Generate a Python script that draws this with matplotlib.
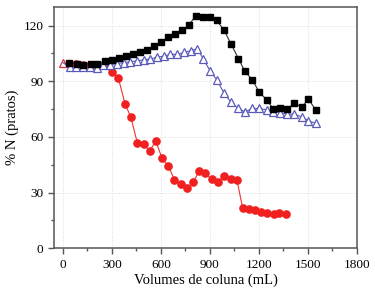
import matplotlib
matplotlib.use("Agg")
import matplotlib.pyplot as plt
from matplotlib.ticker import MultipleLocator

plt.rcParams['font.family'] = ['Liberation Serif', 'DejaVu Serif']

# Données
x_preto = [39, 84, 124, 169, 210, 257, 298, 343, 386, 431, 472, 512, 557, 598, 645, 686,
           731, 771, 812, 855, 900, 941, 986, 1029, 1074, 1114, 1159, 1202, 1247, 1288,
           1329, 1373, 1416, 1462, 1502, 1547]
y_preto = [99.8, 99.5, 98.9, 99.5, 99.3, 100.7, 101.6, 102.3, 103.4, 104.7, 105.7, 107,
           108.8, 111, 113.9, 115.3, 117.5, 120.2, 125.4, 124.8, 124.8, 122.9, 117.5,
           110.1, 102.2, 95.3, 90.8, 84, 80, 75, 75.3, 75, 78.2, 76, 80.4, 74.6]

x_azul = [0, 41, 82, 124, 165, 206, 247, 288, 330, 371, 412, 453, 494, 535, 576, 617,
          658, 700, 741, 782, 823, 859, 900, 941, 986, 1029, 1074, 1114, 1159, 1202,
          1247, 1288, 1329, 1373, 1416, 1462, 1502, 1547]
y_azul = [100, 97.5, 97.5, 97.5, 97.5, 97, 98.5, 99, 99.5, 100, 100.5, 101, 101.5, 102,
          103, 103.5, 104.5, 104.5, 105.5, 106.5, 107.5, 102, 95.7, 90.8, 83.6, 78.6,
          75.3, 73.5, 75.3, 75.3, 74.6, 73.5, 73.1, 72.3, 72.3, 70.7, 68.6, 67.4]

x_verm = [0, 41, 82, 124, 165, 206, 247, 302, 339, 380, 416, 455, 494, 531, 568, 606,
          645, 682, 723, 761, 798, 835, 871, 910, 951, 988, 1027, 1065, 1100, 1139,
          1176, 1212, 1251, 1290, 1325, 1366]
y_verm = [100, 99.5, 99.5, 99, 99, 98.5, 98.5, 94.8, 91.7, 77.8, 70.5, 56.8, 56.1, 52.2,
          57.9, 48.5, 44.2, 37, 34.4, 32.5, 35.7, 41.8, 40.4, 37.1, 35.5, 39.1, 37.1,
          36.8, 21.6, 21, 20.5, 19.6, 19, 18.3, 18.8, 18.4]

fig = plt.figure(figsize=(3.75, 2.94), dpi=100)
ax = fig.add_axes([0.144, 0.156, 0.808, 0.820])

ax.plot(x_verm, y_verm, color='#f03030', lw=0.8, marker='o', ms=5.2,
        mfc='#f02020', mec='#f02020', markevery=slice(1, None), zorder=2)
ax.plot(x_verm, y_verm, ls='none', marker='^', ms=5.8, mfc='white', mec='#e03040',
        mew=0.9, markevery=[0], zorder=2)
ax.plot(x_azul, y_azul, color='#5a5ab8', lw=0.8, marker='^', ms=5.8, mfc='white',
        mec='#5a5ab8', mew=0.9, markevery=slice(1, None), zorder=3)
ax.plot(x_preto, y_preto, color='#333333', lw=0.8, marker='s', ms=5,
        mfc='black', mec='black', zorder=4)

ax.set_xlim(-55, 1800)
ax.set_ylim(0, 130)
ax.xaxis.set_major_locator(MultipleLocator(300))
ax.xaxis.set_minor_locator(MultipleLocator(150))
ax.yaxis.set_major_locator(MultipleLocator(30))
ax.yaxis.set_minor_locator(MultipleLocator(15))

ax.grid(True, which='major', color='#dddddd', ls=':', lw=0.7)
ax.set_axisbelow(True)
for s in ax.spines.values():
    s.set_color('#555555')
    s.set_linewidth(1.1)
ax.tick_params(which='both', direction='out', color='#555555', labelsize=9.5,
               width=1)
ax.tick_params(which='major', length=4)
ax.tick_params(which='minor', length=2.5)

ax.set_xlabel('Volumes de coluna (mL)', fontsize=10.5, labelpad=2)
ax.set_ylabel('% N (pratos)', fontsize=10.5, labelpad=3)

fig.savefig('out.png', dpi=100)
